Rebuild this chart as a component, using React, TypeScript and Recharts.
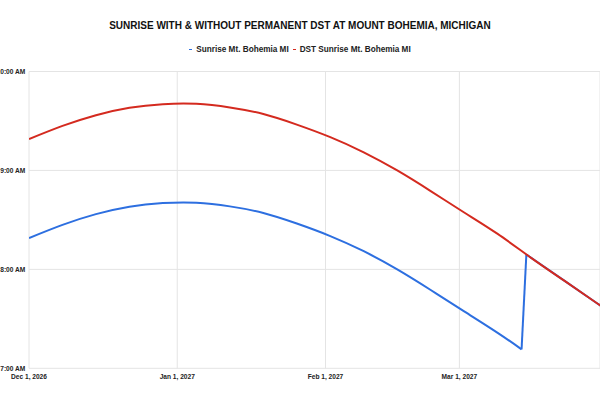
import React from 'react';
import { LineChart, Line, XAxis, YAxis, CartesianGrid } from 'recharts';

// days counted from Dec 1, 2026; times in minutes after midnight
const tickDays = [0, 31, 62, 90];
const tickLabels = ['Dec 1, 2026', 'Jan 1, 2027', 'Feb 1, 2027', 'Mar 1, 2027'];
const hourTicks = [420, 480, 540, 600];

const stdDays = [0, 7, 14, 21, 28, 35, 42, 49, 56, 63, 70, 77, 84, 91, 98, 103];
const sunriseStd = [499, 507, 513.5, 518, 520.2, 520.4, 518.2, 514.2, 507.8, 500.2, 491, 480, 467.5, 454.5, 441.5, 431.5];

const jumpDays = [103, 104];
const sunriseJump = [431.5, 489];

const postDays = [104, 112, 119, 126];
const sunrisePost = [489, 473, 459, 445];

const dstDays = [0, 7, 14, 21, 28, 35, 42, 49, 56, 63, 70, 77, 84, 91, 98, 105, 112, 119, 126];
const sunriseDst = [559, 567, 573.5, 578, 580.2, 580.4, 578.2, 574.2, 567.8, 560.2, 551, 540, 527.5, 514.5, 501.5, 487, 473, 459, 445];

const toRows = (days: number[], vals: number[]) => days.map((d, i) => ({ day: d, value: vals[i] }));

const stdData = toRows(stdDays, sunriseStd);
const jumpData = toRows(jumpDays, sunriseJump);
const postData = toRows(postDays, sunrisePost);
const dstData = toRows(dstDays, sunriseDst);

const BLUE = '#2d6fe0';
const RED = '#d42a1f';
const FONT = '"Liberation Sans", Arial, sans-serif';

const fmtHour = (m: number) => `${Math.floor(m / 60)}:00 AM`;

const YTick = ({ y, payload }: any) => (
  <text x={25.3} y={y} dy={2.4} textAnchor="end" fontSize={6.6} fontWeight="bold" fill="#222" fontFamily={FONT}>
    {fmtHour(payload.value)}
  </text>
);

const XTick = ({ x, payload }: any) => (
  <text x={x} y={378.7} textAnchor="middle" fontSize={6.6} fontWeight="bold" fill="#222" fontFamily={FONT}>
    {tickLabels[tickDays.indexOf(payload.value)]}
  </text>
);

const LegendItem = ({ color, label }: { color: string; label: string }) => (
  <span style={{ display: 'inline-flex', alignItems: 'center', margin: '0 2px' }}>
    <span style={{ display: 'inline-block', width: 3, height: 1.5, background: color, marginRight: 4 }} />
    <span>{label}</span>
  </span>
);

export default function App() {
  return (
    <div style={{ position: 'absolute', left: 0, top: 0, width: 600, height: 400, overflow: 'hidden', background: '#fff', fontFamily: FONT }}>
      <div style={{ position: 'absolute', top: 19.7, left: 0, width: 600, textAlign: 'center', fontSize: 10, lineHeight: '12px', fontWeight: 'bold', color: '#111' }}>
        SUNRISE WITH &amp; WITHOUT PERMANENT DST AT MOUNT BOHEMIA, MICHIGAN
      </div>
      <div style={{ position: 'absolute', top: 44.7, left: 0, width: 600, display: 'flex', justifyContent: 'center', fontSize: 8.2, lineHeight: '10px', fontWeight: 'bold', color: '#222' }}>
        <LegendItem color={BLUE} label="Sunrise Mt. Bohemia MI" />
        <LegendItem color={RED} label="DST Sunrise Mt. Bohemia MI" />
      </div>
      <LineChart width={600} height={400} margin={{ top: 71.5, right: 0, bottom: 1.7, left: 0 }}>
        <CartesianGrid stroke="#e4e4e4" strokeWidth={1} />
        <XAxis
          type="number"
          dataKey="day"
          domain={[0, 119.4]}
          allowDataOverflow
          ticks={tickDays}
          height={30}
          axisLine={false}
          tickLine={false}
          tick={<XTick />}
        />
        <YAxis
          type="number"
          domain={[420, 600]}
          ticks={hourTicks}
          width={29}
          axisLine={false}
          tickLine={false}
          tick={<YTick />}
        />
        <Line data={stdData} dataKey="value" type="natural" stroke={BLUE} strokeWidth={2} dot={false} isAnimationActive={false} />
        <Line data={jumpData} dataKey="value" type="linear" stroke={BLUE} strokeWidth={2} dot={false} isAnimationActive={false} />
        <Line data={postData} dataKey="value" type="natural" stroke={BLUE} strokeWidth={2} dot={false} isAnimationActive={false} />
        <Line data={dstData} dataKey="value" type="natural" stroke={RED} strokeWidth={2} dot={false} isAnimationActive={false} />
      </LineChart>
    </div>
  );
}
